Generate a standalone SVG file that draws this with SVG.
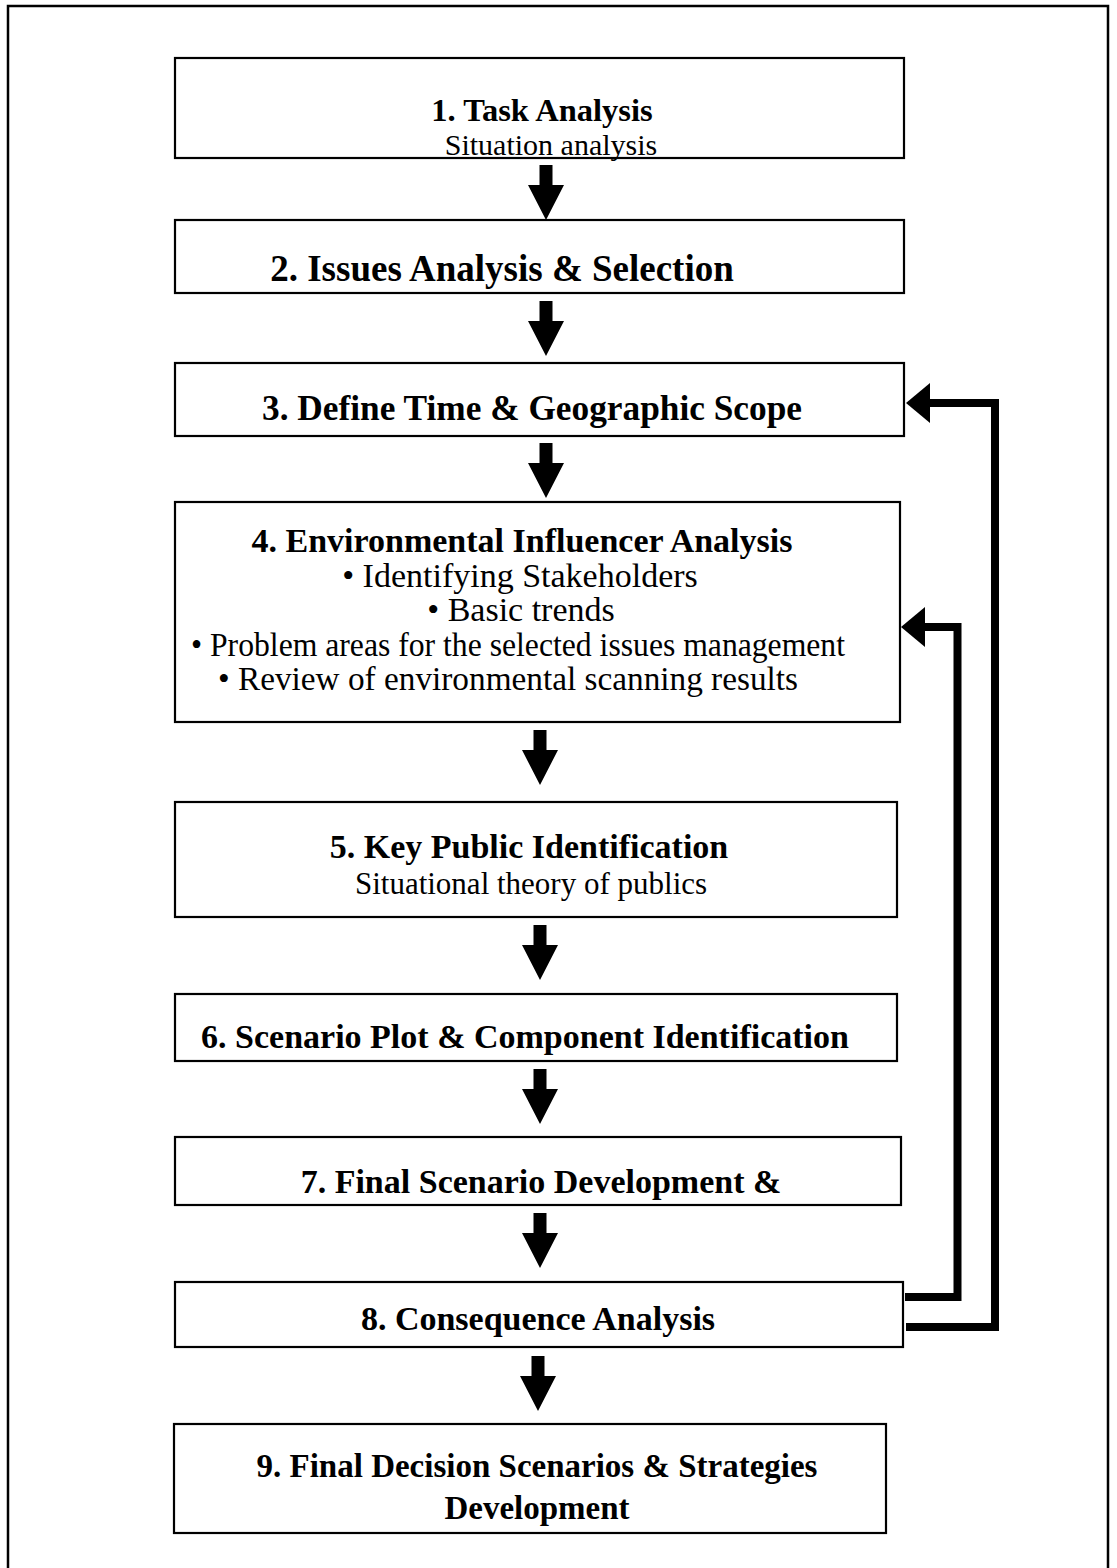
<svg xmlns="http://www.w3.org/2000/svg" xmlns:xlink="http://www.w3.org/1999/xlink" width="1117" height="1568" viewBox="0 0 1117 1568">
<style>
.box{fill:#fff;stroke:#000;stroke-width:2.2}
.t{font-family:"Liberation Serif","Times New Roman",serif;font-size:34px;text-anchor:middle;fill:#000}
.b{font-weight:bold}
.fb{fill:none;stroke:#000;stroke-width:8;stroke-linejoin:miter}
</style>
<defs>
<path id="darrow" d="M-6.5,0 H6.5 V20 H18 L0,55 L-18,20 H-6.5 Z" fill="#000"/>
<marker id="head" viewBox="0 -20 24 40" refX="0" refY="0" markerWidth="24" markerHeight="40" markerUnits="userSpaceOnUse" orient="auto">
<path d="M0,-20 L24,0 L0,20 Z" fill="#000"/>
</marker>
</defs>
<rect x="0" y="0" width="1117" height="1568" fill="#fff"/>
<path d="M8,1575 V6 H1108 V1575" fill="none" stroke="#000" stroke-width="2.5"/>

<g id="n1"><rect class="box" x="175" y="58" width="729" height="100"/>
<text class="t b" x="542" y="121" style="font-size:32.5px">1. Task Analysis</text>
<text class="t" x="551" y="155" style="font-size:30px">Situation analysis</text></g>

<g id="n2"><rect class="box" x="175" y="220" width="729" height="73"/>
<text class="t b" x="502" y="281" style="font-size:37px">2. Issues Analysis &amp; Selection</text></g>

<g id="n3"><rect class="box" x="175" y="363" width="729" height="73"/>
<text class="t b" x="532" y="420" style="font-size:35.3px">3. Define Time &amp; Geographic Scope</text></g>

<g id="n4"><rect class="box" x="175" y="502" width="725" height="220"/>
<text class="t b" x="522" y="552">4. Environmental Influencer Analysis</text>
<text class="t" x="520" y="587">• Identifying Stakeholders</text>
<text class="t" x="521" y="621">• Basic trends</text>
<text class="t" x="518" y="656" textLength="654" lengthAdjust="spacingAndGlyphs">• Problem areas for the selected issues management</text>
<text class="t" x="508" y="690" textLength="580" lengthAdjust="spacingAndGlyphs">• Review of environmental scanning results</text></g>

<g id="n5"><rect class="box" x="175" y="802" width="722" height="115"/>
<text class="t b" x="529" y="858">5. Key Public Identification</text>
<text class="t" x="531" y="894" style="font-size:31px">Situational theory of publics</text></g>

<g id="n6"><rect class="box" x="175" y="994" width="722" height="67"/>
<text class="t b" x="525" y="1048">6. Scenario Plot &amp; Component Identification</text></g>

<g id="n7"><rect class="box" x="175" y="1137" width="726" height="68"/>
<text class="t b" x="541" y="1193">7. Final Scenario Development &amp;</text></g>

<g id="n8"><rect class="box" x="175" y="1282" width="728" height="65"/>
<text class="t b" x="538" y="1330">8. Consequence Analysis</text></g>

<g id="n9"><rect class="box" x="174" y="1424" width="712" height="109"/>
<text class="t b" x="537" y="1477" style="font-size:33px">9. Final Decision Scenarios &amp; Strategies</text>
<text class="t b" x="537" y="1519" style="font-size:33px">Development</text></g>

<g id="connectors">
<use xlink:href="#darrow" x="546" y="165"/>
<use xlink:href="#darrow" x="546" y="301"/>
<use xlink:href="#darrow" x="546" y="443"/>
<use xlink:href="#darrow" x="540" y="730"/>
<use xlink:href="#darrow" x="540" y="925"/>
<use xlink:href="#darrow" x="540" y="1069"/>
<use xlink:href="#darrow" x="540" y="1213"/>
<use xlink:href="#darrow" x="538" y="1356"/>
<path class="fb" d="M905,1297 H957.5 V627 H925" marker-end="url(#head)"/>
<path class="fb" d="M906,1327 H995 V403 H930" marker-end="url(#head)"/>
</g>
</svg>
